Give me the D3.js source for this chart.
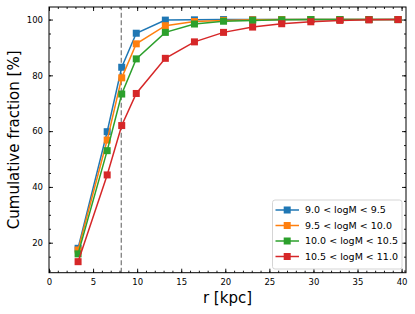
<!DOCTYPE html>
<html>
<head>
<meta charset="utf-8">
<script src="https://cdn.jsdelivr.net/npm/d3@7"></script>
<style>
  html, body { margin: 0; padding: 0; background: #fff; }
  svg { display: block; }
  text { font-family: "DejaVu Sans", sans-serif; }
</style>
</head>
<body>
<script>
const radii = [3.3, 6.6, 8.25, 9.9, 13.2, 16.5, 19.8, 23.1, 26.4, 29.7, 33.0, 36.3, 39.6];
const seriesLabels = ["9.0 < logM < 9.5", "9.5 < logM < 10.0", "10.0 < logM < 10.5", "10.5 < logM < 11.0"];
const seriesColors = ["#1f77b4", "#ff7f0e", "#2ca02c", "#d62728"];
const fracA = [18.0, 59.8, 82.9, 95.1, 99.8, 99.9, 100.0, 100.0, 100.0, 100.0, 100.0, 100.0, 100.0];
const fracB = [17.4, 56.8, 79.1, 91.3, 97.8, 99.3, 99.7, 99.9, 100.0, 100.0, 100.0, 100.0, 100.0];
const fracC = [16.0, 53.0, 73.3, 85.9, 95.4, 98.4, 99.4, 99.7, 99.9, 100.0, 100.0, 100.0, 100.0];
const fracD = [13.2, 44.3, 62.0, 73.5, 86.1, 92.0, 95.4, 97.3, 98.5, 99.2, 99.7, 99.9, 100.0];
const xTicks = [0, 5, 10, 15, 20, 25, 30, 35, 40];
const yTicks = [20, 40, 60, 80, 100];
const solarRadius = 8.2;

const W = 415, H = 314;
const m = {left: 49, right: 406, top: 7, bottom: 272.7};
const svg = d3.select("body").append("svg").attr("width", W).attr("height", H);

const x = d3.scaleLinear().domain([0, 40.5]).range([m.left, m.right]);
const y = d3.scaleLinear().domain([9.25, 104.5]).range([m.bottom, m.top]);

const g = svg.append("g");

// dashed line
g.append("line")
  .attr("x1", x(solarRadius)).attr("x2", x(solarRadius))
  .attr("y1", y.range()[0]).attr("y2", y.range()[1])
  .attr("stroke", "#808080").attr("stroke-width", 1.3)
  .attr("stroke-dasharray", "5,2.5");

const series = [fracA, fracB, fracC, fracD];
const line = d3.line().x((d, i) => x(radii[i])).y(d => y(d));
series.forEach((vals, si) => {
  const sg = g.append("g");
  sg.append("path").datum(vals).attr("d", line)
    .attr("fill", "none").attr("stroke", seriesColors[si]).attr("stroke-width", 1.5);
  const s = 7;
  sg.selectAll("rect").data(vals).enter().append("rect")
    .attr("x", (d, i) => x(radii[i]) - s / 2)
    .attr("y", d => y(d) - s / 2)
    .attr("width", s).attr("height", s)
    .attr("fill", seriesColors[si]);
});

// axes with inward ticks
function styleAxis(sel) {
  sel.select(".domain").remove();
  sel.selectAll("line").attr("stroke", "#000").attr("stroke-width", 0.9);
  sel.selectAll("text").attr("font-size", "8.5px").attr("fill", "#000");
}
const xMinor = d3.range(0, 41, 1);
const yMinor = d3.range(10, 105, 5);

const axBottom = svg.append("g").attr("transform", `translate(0,${m.bottom})`)
  .call(d3.axisBottom(x).tickValues(xTicks).tickSizeInner(-4).tickSizeOuter(0).tickPadding(6).tickFormat(d3.format("d")));
styleAxis(axBottom);
const axBottomMinor = svg.append("g").attr("transform", `translate(0,${m.bottom})`)
  .call(d3.axisBottom(x).tickValues(xMinor).tickSize(-2).tickFormat(""));
styleAxis(axBottomMinor);
const axTop = svg.append("g").attr("transform", `translate(0,${m.top})`)
  .call(d3.axisTop(x).tickValues(xTicks).tickSize(-4).tickFormat(""));
styleAxis(axTop);
const axTopMinor = svg.append("g").attr("transform", `translate(0,${m.top})`)
  .call(d3.axisTop(x).tickValues(xMinor).tickSize(-2).tickFormat(""));
styleAxis(axTopMinor);

const axLeft = svg.append("g").attr("transform", `translate(${m.left},0)`)
  .call(d3.axisLeft(y).tickValues(yTicks).tickSizeInner(-4).tickSizeOuter(0).tickPadding(6).tickFormat(d3.format("d")));
styleAxis(axLeft);
const axLeftMinor = svg.append("g").attr("transform", `translate(${m.left},0)`)
  .call(d3.axisLeft(y).tickValues(yMinor).tickSize(-2).tickFormat(""));
styleAxis(axLeftMinor);
const axRight = svg.append("g").attr("transform", `translate(${m.right},0)`)
  .call(d3.axisRight(y).tickValues(yTicks).tickSize(-4).tickFormat(""));
styleAxis(axRight);
const axRightMinor = svg.append("g").attr("transform", `translate(${m.right},0)`)
  .call(d3.axisRight(y).tickValues(yMinor).tickSize(-2).tickFormat(""));
styleAxis(axRightMinor);

// frame
svg.append("rect").attr("x", m.left).attr("y", m.top)
  .attr("width", m.right - m.left).attr("height", m.bottom - m.top)
  .attr("fill", "none").attr("stroke", "#000").attr("stroke-width", 1);

// axis labels
svg.append("text").attr("x", (m.left + m.right) / 2).attr("y", 303)
  .attr("text-anchor", "middle").attr("font-size", "15px").text("r [kpc]");
svg.append("text").attr("transform", `translate(19,${(m.top + m.bottom) / 2}) rotate(-90)`)
  .attr("text-anchor", "middle").attr("font-size", "15px").text("Cumulative fraction [%]");

// legend
const lg = svg.append("g");
lg.append("rect").attr("x", 272.5).attr("y", 200).attr("width", 129.5).attr("height", 69)
  .attr("rx", 2.5).attr("fill", "#fff").attr("fill-opacity", 0.8)
  .attr("stroke", "#d0d0d0").attr("stroke-width", 0.9);
seriesLabels.forEach((lab, i) => {
  const yy = 210 + i * 15.5;
  lg.append("line").attr("x1", 275.5).attr("x2", 299).attr("y1", yy).attr("y2", yy)
    .attr("stroke", seriesColors[i]).attr("stroke-width", 1.5);
  lg.append("rect").attr("x", 287.2 - 3.5).attr("y", yy - 3.5).attr("width", 7).attr("height", 7)
    .attr("fill", seriesColors[i]);
  lg.append("text").attr("x", 305).attr("y", yy + 3.3).attr("font-size", "9.5px").text(lab);
});
</script>
</body>
</html>
